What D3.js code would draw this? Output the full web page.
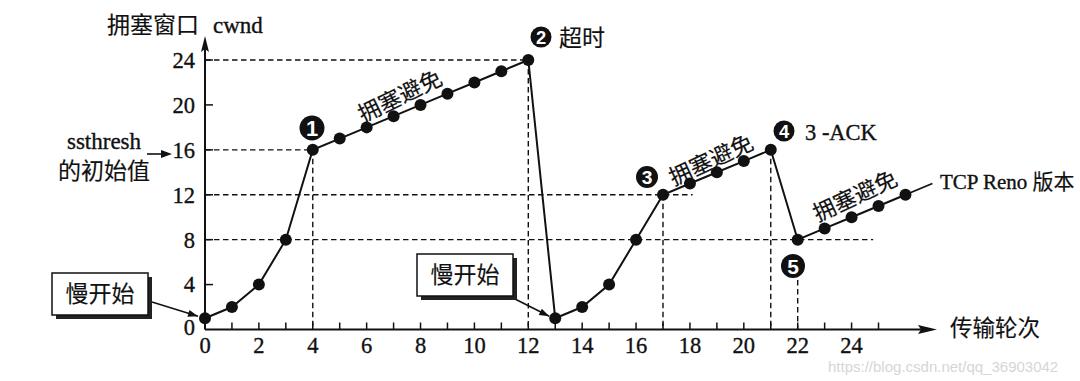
<!DOCTYPE html>
<html><head><meta charset="utf-8">
<script src="https://cdn.jsdelivr.net/npm/d3@7"></script>
<style>
html,body{margin:0;padding:0;background:#fff;}
svg{display:block;}
text{font-family:"Liberation Serif","Noto Sans CJK SC",serif;fill:#111;stroke:#111;stroke-width:0.35px;}
.cjk{font-family:"Noto Sans CJK SC","Liberation Serif",sans-serif;stroke-width:0.15px;}
</style></head>
<body>
<script>
// ---- data ----
const rounds = [0,1,2,3,4,5,6,7,8,9,10,11,12,13,14,15,16,17,18,19,20,21,22,23,24,25,26];
const cwnd   = [1,2,4,8,16,17,18,19,20,21,22,23,24,1,2,4,8,12,13,14,15,16,8,9,10,11,12];
const tailRounds = [26,27];
const tailCwnd = [12,13];
const xTickLabels = [0,2,4,6,8,10,12,14,16,18,20,22,24];
const xMinorTicks = [1,2,3,4,5,6,7,8,9,10,11,12,13,14,15,16,17,18,19,20,21,22,23,24,25];
const yTickLabels = [0,4,8,12,16,20,24];
// dashed guides: [x1,y1,x2,y2] in data units
const guideH = [[0,24,12,24],[0,16,4,16],[0,12,18.1,12],[0,8,24.8,8]];
const guideV = [[4,16,4,0],[12,24,12,0],[17,12,17,0],[21,16,21,0],[22,4.4,22,0]];

const W=1080,H=381;
const svg=d3.select("body").append("svg").attr("width",W).attr("height",H);
const x=d3.scaleLinear().domain([0,22]).range([205,797.7]);
const y=d3.scaleLinear().domain([0,24]).range([329.5,60]);
const X0=x(0), Y0=y(0);

// watermark
svg.append("text").attr("x",828).attr("y",372).attr("font-size",15)
  .style("font-family","Liberation Sans, sans-serif").style("fill","#d6d6d6").style("stroke","none")
  .text("https://blog.csdn.net/qq_36903042");

// guides
const g=svg.append("g").attr("stroke","#111").attr("stroke-width",1.4).attr("stroke-dasharray","5.5,3.5");
guideH.concat(guideV).forEach(d=>{
  g.append("line").attr("x1",x(d[0])).attr("y1",y(d[1])).attr("x2",x(d[2])).attr("y2",y(d[3]));
});

// axes
const ax=svg.append("g").attr("stroke","#111").attr("stroke-width",2);
ax.append("line").attr("x1",X0).attr("y1",Y0).attr("x2",925).attr("y2",Y0);
ax.append("line").attr("x1",X0).attr("y1",Y0).attr("x2",X0).attr("y2",48);
svg.append("path").attr("d",`M937,${Y0} L918,${Y0-4.5} L921,${Y0} L918,${Y0+4.5} Z`).attr("fill","#111");
svg.append("path").attr("d",`M${X0},36 L${X0-4},52 L${X0},49 L${X0+4},52 Z`).attr("fill","#111");
xMinorTicks.forEach(t=>{
  ax.append("line").attr("x1",x(t)).attr("x2",x(t)).attr("y1",Y0).attr("y2",Y0-7).attr("stroke-width",1.5);
});
yTickLabels.filter(t=>t>0).forEach(t=>{
  ax.append("line").attr("x1",X0).attr("x2",X0+8).attr("y1",y(t)).attr("y2",y(t)).attr("stroke-width",1.5);
});
xTickLabels.forEach(t=>{
  svg.append("text").attr("x",x(t)).attr("y",Y0+23.5).attr("text-anchor","middle").attr("font-size",22.5).text(t);
});
yTickLabels.forEach(t=>{
  svg.append("text").attr("x",X0-10).attr("y",y(t)+(t===0?-2:0)).attr("dy","0.35em").attr("text-anchor","end").attr("font-size",22.5).text(t);
});

// series line
const pts=rounds.map((r,i)=>[r,cwnd[i]]);
const line=d3.line().x(d=>x(d[0])).y(d=>y(d[1]));
svg.append("path").attr("d",line(pts)).attr("fill","none").attr("stroke","#111").attr("stroke-width",2);
svg.append("path").attr("d",line(tailRounds.map((r,i)=>[r,tailCwnd[i]]))).attr("fill","none").attr("stroke","#111").attr("stroke-width",1.8);
svg.append("g").selectAll("circle").data(pts).join("circle")
  .attr("cx",d=>x(d[0])).attr("cy",d=>y(d[1])).attr("r",6).attr("fill","#111");

// titles
svg.append("text").attr("x",107).attr("y",33).attr("font-size",23).attr("class","cjk").text("拥塞窗口");
svg.append("text").attr("x",213).attr("y",33).attr("font-size",23).text("cwnd");
svg.append("text").attr("x",950).attr("y",336).attr("font-size",22.5).attr("class","cjk").text("传输轮次");
svg.append("text").attr("x",104).attr("y",149).attr("text-anchor","middle").attr("font-size",23).text("ssthresh");
svg.append("text").attr("x",104).attr("y",179).attr("text-anchor","middle").attr("font-size",23).attr("class","cjk").text("的初始值");
svg.append("line").attr("x1",147).attr("y1",154).attr("x2",163).attr("y2",154).attr("stroke","#111").attr("stroke-width",1.6);
svg.append("path").attr("d","M172,154 L161,150 L161,158 Z").attr("fill","#111");

// slow-start boxes
function box(x0,y0,w,h,ax1,ay1,ax2,ay2){
  svg.append("line").attr("x1",ax1).attr("y1",ay1).attr("x2",ax2).attr("y2",ay2).attr("stroke","#111").attr("stroke-width",1.6);
  const ang=Math.atan2(ay2-ay1,ax2-ax1);
  const L=10,Wd=3.5;
  const bx=ax2-L*Math.cos(ang), by=ay2-L*Math.sin(ang);
  svg.append("path").attr("d",`M${ax2},${ay2} L${bx-Wd*Math.sin(ang)},${by+Wd*Math.cos(ang)} L${bx+Wd*Math.sin(ang)},${by-Wd*Math.cos(ang)} Z`).attr("fill","#111");
  svg.append("rect").attr("x",x0+4).attr("y",y0+4).attr("width",w).attr("height",h).attr("fill","#222");
  svg.append("rect").attr("x",x0).attr("y",y0).attr("width",w).attr("height",h).attr("fill","#fff").attr("stroke","#111").attr("stroke-width",1.5);
  svg.append("text").attr("x",x0+w/2).attr("y",y0+h/2).attr("dy","0.36em").attr("text-anchor","middle").attr("font-size",23).attr("class","cjk").text("慢开始");
}
box(52,273,96,42,152,302,x(0)-7,y(1)-2);
box(417,254,96,42,515,299,x(13)-6,y(1)-2);

// circled numbers
function badge(cx,cy,r,n){
  svg.append("circle").attr("cx",cx).attr("cy",cy).attr("r",r).attr("fill","#111");
  svg.append("text").attr("x",cx).attr("y",cy).attr("dy","0.36em").attr("text-anchor","middle").attr("font-size",r*1.75).attr("font-weight","bold")
    .style("font-family","Liberation Sans, sans-serif").style("fill","#fff").style("stroke","none").text(n);
}
badge(312,128,12.5,"1");
badge(541,37,10.5,"2");
badge(647,177,11,"3");
badge(784,131,10.5,"4");
badge(793,266,12,"5");
svg.append("text").attr("x",559).attr("y",38).attr("dy","0.36em").attr("font-size",23).attr("class","cjk").text("超时");
svg.append("text").attr("x",805).attr("y",132).attr("dy","0.36em").attr("font-size",22.5).text("3 -ACK");
svg.append("text").attr("x",940).attr("y",189).attr("font-size",21).html('TCP Reno <tspan class="cjk">版本</tspan>');

// rotated labels
function rot(cx,cy,a){
  svg.append("text").attr("transform",`translate(${cx},${cy}) rotate(${a})`).attr("text-anchor","middle").attr("dy","0.36em")
    .attr("font-size",22.5).attr("class","cjk").text("拥塞避免");
}
rot(400,96,-26);
rot(711,160,-25);
rot(855,196,-25);
</script>
</body></html>
